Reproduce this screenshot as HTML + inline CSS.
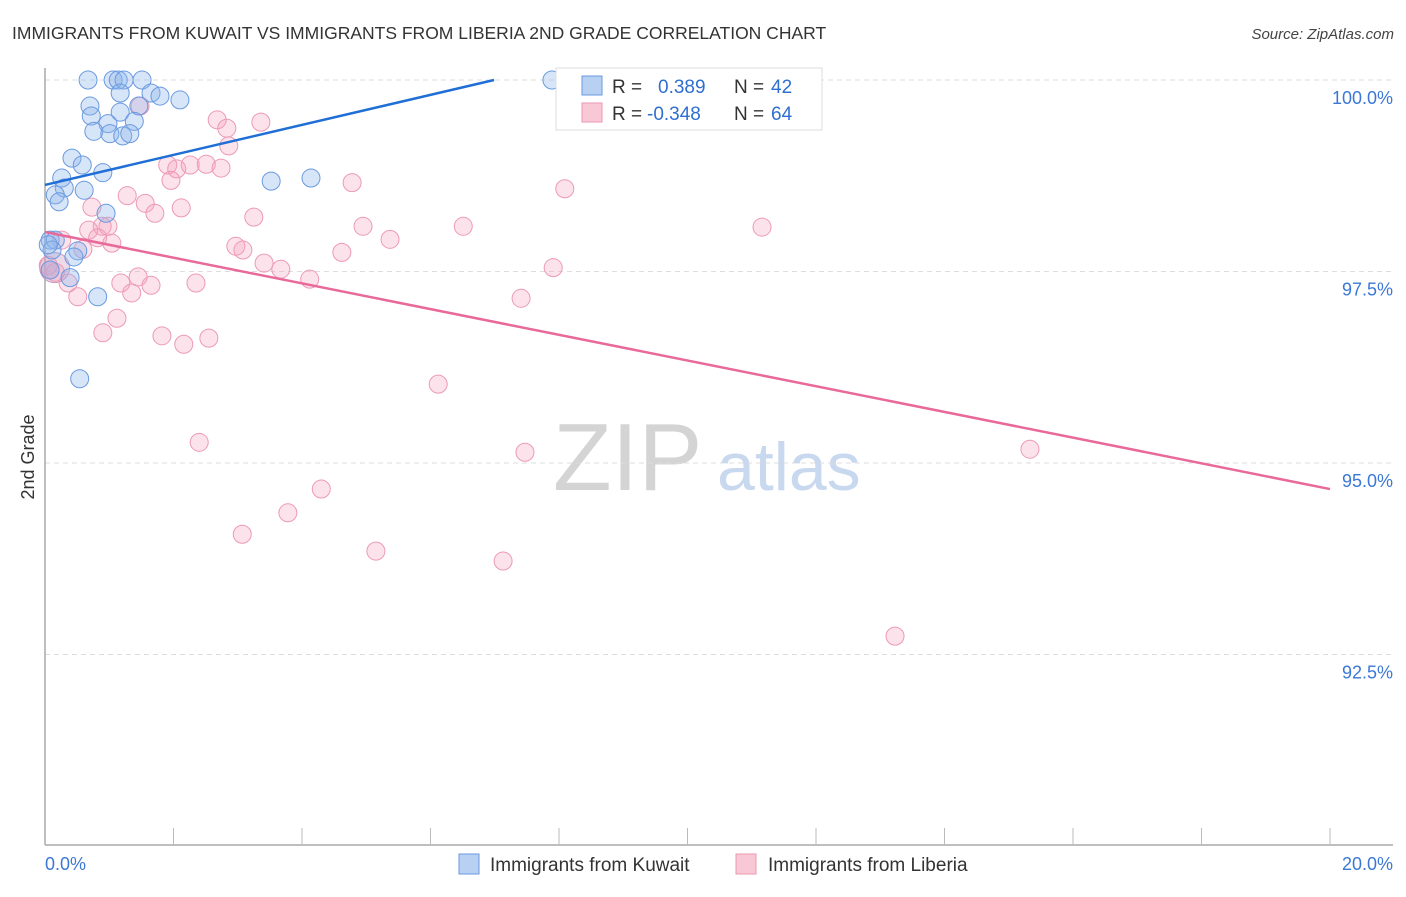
<!DOCTYPE html>
<html><head><meta charset="utf-8"><style>
body{margin:0;background:#fff;font-family:"Liberation Sans",sans-serif;}
svg text{font-family:"Liberation Sans",sans-serif;}
</style></head><body>
<svg id="chart" width="1406" height="892" viewBox="0 0 1406 892" xmlns="http://www.w3.org/2000/svg">
<text x="12" y="39" font-size="17.5" fill="#333">IMMIGRANTS FROM KUWAIT VS IMMIGRANTS FROM LIBERIA 2ND GRADE CORRELATION CHART</text>
<text x="1394" y="39" font-size="15" font-style="italic" fill="#444" text-anchor="end">Source: ZipAtlas.com</text>
<g>
<text x="553" y="490" font-size="96" font-family="Liberation Serif" fill="#d4d4d4">ZIP</text>
<text x="717" y="490" font-size="68" fill="#c8d8ee">atlas</text>
</g>
<g id="grid"></g>
<g id="axes"></g>
<g id="pts"></g>
<g id="lines"></g>
<text transform="translate(34,457) rotate(-90)" font-size="18" fill="#333" text-anchor="middle">2nd Grade</text>
<g>
<rect x="556" y="68" width="266" height="62" fill="#fff" stroke="#ddd"/>
<rect x="582" y="76" width="20" height="19" fill="#b8d0f2" stroke="#6a9ae0"/>
<rect x="582" y="103" width="20" height="19" fill="#f9c8d6" stroke="#ec97b2"/>
<text x="612" y="93" font-size="19" fill="#333">R =</text>
<text x="658" y="93" font-size="19" fill="#2f6fd0">0.389</text>
<text x="734" y="93" font-size="19" fill="#333">N =</text>
<text x="771" y="93" font-size="19" fill="#2f6fd0">42</text>
<text x="612" y="120" font-size="19" fill="#333">R =</text>
<text x="647" y="120" font-size="19" fill="#2f6fd0">-0.348</text>
<text x="734" y="120" font-size="19" fill="#333">N =</text>
<text x="771" y="120" font-size="19" fill="#2f6fd0">64</text>
</g>
<g>
<rect x="459" y="854" width="20" height="20" fill="#b8d0f2" stroke="#6a9ae0"/>
<text x="490" y="871" font-size="19" fill="#333">Immigrants from Kuwait</text>
<rect x="736" y="854" width="20" height="20" fill="#f9c8d6" stroke="#ec97b2"/>
<text x="768" y="871" font-size="19" fill="#333">Immigrants from Liberia</text>
</g>
</svg>
<script>
const yTicks=[100,97.5,95,92.5];
const yTickLabels=["100.0%","97.5%","95.0%","92.5%"];
const xTickLabels=["0.0%","20.0%"];
const kuwaitX=[0.67,1.06,1.14,1.23,1.51,7.89,9.85,1.17,1.65,1.79,2.10,0.70,1.46,0.72,1.17,1.39,0.98,0.76,1.01,1.21,1.32,0.42,0.58,0.26,0.90,0.30,0.16,0.61,0.22,3.52,4.14,0.95,0.08,0.16,0.51,0.45,0.39,0.82,0.54,0.08,0.11,0.05];
const kuwaitY=[100,100,100,100,100,100,100,99.83,99.83,99.79,99.74,99.66,99.66,99.53,99.58,99.46,99.43,99.33,99.30,99.27,99.30,98.98,98.89,98.72,98.79,98.59,98.50,98.56,98.41,98.68,98.72,98.26,97.91,97.91,97.77,97.69,97.42,97.17,96.10,97.52,97.78,97.85];
const liberiaX=[9.39,1.48,2.68,2.83,3.36,2.86,1.91,2.05,2.26,2.51,2.74,1.96,1.28,1.56,1.71,2.12,0.73,3.25,4.78,8.09,4.95,6.51,11.16,0.89,0.68,0.98,0.26,0.82,1.04,0.59,2.97,3.08,4.62,5.37,3.41,3.67,4.12,7.91,1.18,1.45,1.65,2.35,0.36,0.51,1.35,7.41,1.12,0.90,1.82,2.16,2.55,6.12,2.40,7.47,15.33,4.30,3.78,3.07,5.15,7.13,13.23,0.08,0.16,0.05];
const liberiaY=[100,99.66,99.48,99.37,99.45,99.14,98.89,98.84,98.89,98.90,98.85,98.69,98.49,98.39,98.26,98.33,98.34,98.21,98.66,98.58,98.09,98.09,98.08,98.09,98.04,98.09,97.91,97.94,97.87,97.79,97.83,97.78,97.75,97.92,97.61,97.53,97.40,97.55,97.35,97.43,97.32,97.35,97.35,97.17,97.22,97.15,96.89,96.70,96.66,96.55,96.63,96.03,95.27,95.14,95.18,94.66,94.35,94.07,93.85,93.72,92.74,97.52,97.49,97.58];
const kuwaitTrend=[98.63,101.0];   // y at x=0 and x=12.09 (extends past top, clipped)
const liberiaTrend=[98.016,94.66]; // y at x=0 and x=20
const NS="http://www.w3.org/2000/svg";
const X0=45,X1=1330,Y100=80,PX_PER=191.5/2.5;
const sx=v=>X0+(v/20)*(X1-X0);
const sy=v=>Y100+(100-v)*PX_PER;
function mk(tag,attrs,parent){const e=document.createElementNS(NS,tag);for(const k in attrs)e.setAttribute(k,attrs[k]);parent.appendChild(e);return e;}
const grid=document.getElementById('grid'),axes=document.getElementById('axes'),pts=document.getElementById('pts'),lines=document.getElementById('lines');
yTicks.forEach((t,i)=>{
 const l=mk('line',{x1:X0,x2:1393,y1:sy(t),y2:sy(t),stroke:'#ddd','stroke-dasharray':'5,4'},grid);
 
 
 const tx=mk('text',{x:1393,y:sy(t)+24,'font-size':18,fill:'#3b78d6','text-anchor':'end'},grid);
 tx.textContent=yTickLabels[i];
 
 
});
const ya=mk('line',{x1:X0,x2:X0,y1:68,y2:845,stroke:'#aaa','stroke-width':1.5},axes);


const xa=mk('line',{x1:X0,x2:1393,y1:845,y2:845,stroke:'#aaa','stroke-width':1.5},axes);


for(let i=1;i<=10;i++){
 const t=mk('line',{x1:sx(i*2),x2:sx(i*2),y1:828,y2:845,stroke:'#bbb'},axes);
 
 
}
const xl0=mk('text',{x:45,y:870,'font-size':18,fill:'#3b78d6'},axes);
xl0.textContent=xTickLabels[0];


const xl1=mk('text',{x:1393,y:870,'font-size':18,fill:'#3b78d6','text-anchor':'end'},axes);
xl1.textContent=xTickLabels[1];


// big blended cluster near origin
const big=mk('circle',{cx:sx(0.15),cy:sy(97.55),r:15,fill:'rgba(200,150,190,0.35)',stroke:'#c99ac0'},pts);


liberiaX.forEach((v,i)=>{
 const c=mk('circle',{cx:sx(v),cy:sy(liberiaY[i]),r:9,fill:'rgba(244,160,188,0.3)',stroke:'#ec9ab5','stroke-width':1},pts);
 
 
});
kuwaitX.forEach((v,i)=>{
 const c=mk('circle',{cx:sx(v),cy:sy(kuwaitY[i]),r:9,fill:'rgba(140,180,235,0.35)',stroke:'#6a9ae0','stroke-width':1},pts);
 
 
});
// kuwait trend clipped to 100%
const kSlope=(kuwaitTrend[1]-kuwaitTrend[0])/12.09;
const kxEnd=(100-kuwaitTrend[0])/kSlope;
const kl=mk('line',{x1:sx(0),y1:sy(kuwaitTrend[0]),x2:sx(kxEnd),y2:sy(100),stroke:'#1f6fd6','stroke-width':2.5},lines);


const ll=mk('line',{x1:sx(0),y1:sy(liberiaTrend[0]),x2:sx(20),y2:sy(liberiaTrend[1]),stroke:'#e8699a','stroke-width':2.5},lines);


</script>
</body></html>
